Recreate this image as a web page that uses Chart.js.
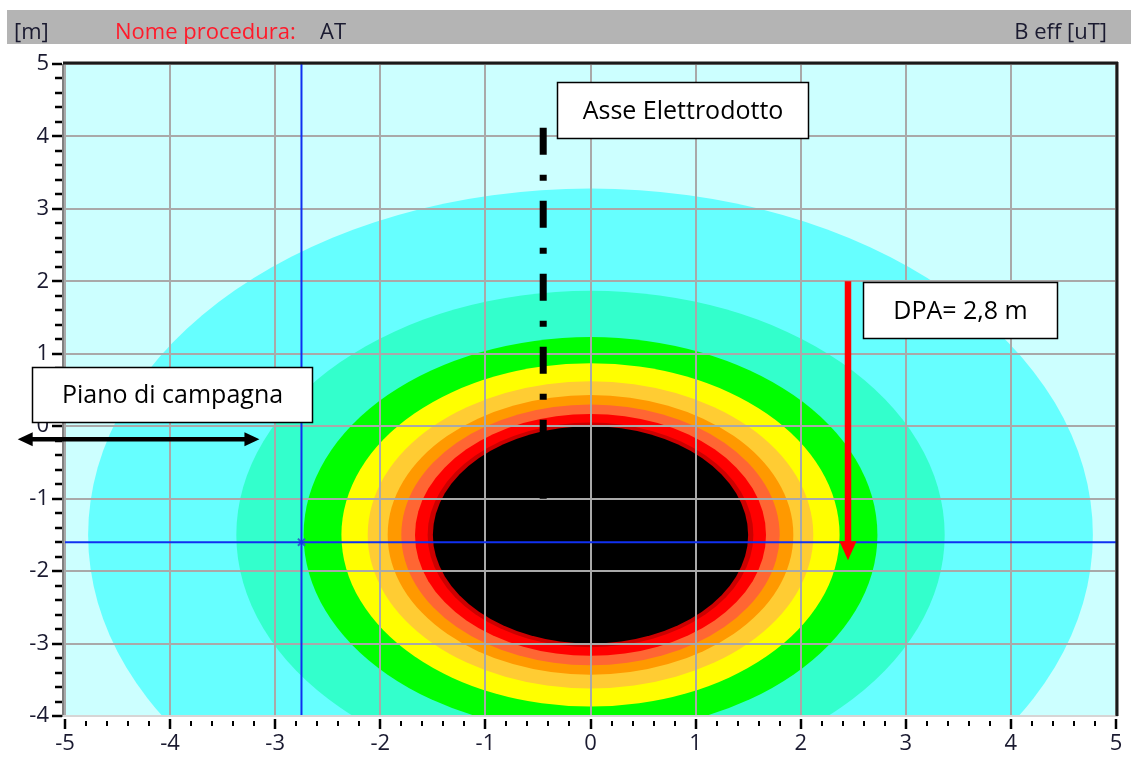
<!DOCTYPE html>
<html>
<head>
<meta charset="utf-8">
<script src="https://cdn.jsdelivr.net/npm/chart.js@4.4.1/dist/chart.umd.min.js"></script>
<style>
  html, body { margin: 0; padding: 0; background: #ffffff; }
  canvas { display: block; }
</style>
</head>
<body>
<canvas id="c" width="1131" height="760"></canvas>
<script>
// Magnetic induction map (B eff, uT) in the cross-section of the line, distances in metres
const xRange = [-5, 5];
const yRange = [-4, 5];
const tickStep = 0.2;

// Centre of the cable group: iso-field curves are circles around it
const sourceX = 0;
const sourceY = -1.5;

// Iso-field bands from the outermost to the innermost: radius [m]
const ringRadii = [4.78, 3.37, 2.73, 2.37, 2.12, 1.93, 1.80, 1.67, 1.55, 1.50];

// Cursor position
const cursorX = -2.75;
const cursorY = -1.6;

// Power line axis (dash-dot), x and vertical extent [m]
const lineAxisX = -0.45;
const lineAxisY = [4.12, -1.0];

// DPA arrow, x and vertical extent [m]
const dpaArrowX = 2.45;
const dpaArrowY = [2.0, -1.85];

// Ground level double arrow, y and horizontal extent [m]
const groundArrowY = -0.18;
const groundArrowX = [-5.45, -3.15];

// Header texts
const headerUnitY = '[m]';
const headerProcLabel = 'Nome procedura:';
const headerProcName = 'AT';
const headerUnitB = 'B eff [uT]';

// Callout texts
const calloutTexts = ['Asse Elettrodotto', 'DPA= 2,8 m', 'Piano di campagna'];

// ---- styling and layout ----
const bandColors = ['#66ffff', '#33ffcc', '#00ff00', '#ffff00', '#ffcc33', '#ff9900', '#ff6633', '#ff0000', '#cc0000', '#000000'];
const outsideColor = '#ccffff';
const FONT = '"Open Sans", "Noto Sans", sans-serif';
const TEXT_DARK = '#1a1a30';
// callout frames in metres: [left, top, right, bottom]
const calloutFrames = [
  [-0.32, 4.75, 2.07, 3.98],
  [2.593, 1.989, 4.439, 1.215],
  [-5.314, 0.817, -2.65, 0.058]
];

const isMajor = v => Math.abs(v - Math.round(v)) < 1e-6;

function drawHead(ctx, tipX, tipY, dx, dy, len, halfW) {
  const bx = tipX - dx * len, by = tipY - dy * len;
  const nx = -dy, ny = dx;
  ctx.beginPath();
  ctx.moveTo(tipX, tipY);
  ctx.lineTo(bx + nx * halfW, by + ny * halfW);
  ctx.lineTo(bx - nx * halfW, by - ny * halfW);
  ctx.closePath();
  ctx.fill();
}

const fieldMap = {
  id: 'fieldMap',
  beforeDraw(chart) {
    const { ctx, chartArea: a, scales: { x, y } } = chart;
    ctx.save();
    // header band
    ctx.fillStyle = '#b4b4b4';
    ctx.fillRect(7, 10, chart.width - 7, 34);
    ctx.font = '22px ' + FONT;
    ctx.textBaseline = 'alphabetic';
    ctx.textAlign = 'left';
    ctx.fillStyle = TEXT_DARK;
    ctx.fillText(headerUnitY, 14, 39);
    ctx.fillStyle = '#ff1a2a';
    ctx.fillText(headerProcLabel, 115, 39);
    ctx.fillStyle = TEXT_DARK;
    ctx.fillText(headerProcName, 320, 39);
    ctx.textAlign = 'right';
    ctx.fillText(headerUnitB, 1107, 39);

    // iso-field bands, clipped to the plot area
    ctx.beginPath();
    ctx.rect(a.left, a.top, a.right - a.left, a.bottom - a.top);
    ctx.clip();
    ctx.fillStyle = outsideColor;
    ctx.fillRect(a.left, a.top, a.right - a.left, a.bottom - a.top);
    const cx = x.getPixelForValue(sourceX);
    const cy = y.getPixelForValue(sourceY);
    ringRadii.forEach((r, i) => {
      const rx = x.getPixelForValue(sourceX + r) - cx;
      const ry = cy - y.getPixelForValue(sourceY + r);
      ctx.beginPath();
      ctx.ellipse(cx, cy, rx, ry, 0, 0, Math.PI * 2);
      ctx.fillStyle = bandColors[i];
      ctx.fill();
    });
    ctx.restore();
  },
  afterDraw(chart) {
    const { ctx, chartArea: a, scales: { x, y } } = chart;
    ctx.save();
    // frame
    ctx.lineCap = 'butt';
    ctx.strokeStyle = '#808080';
    ctx.lineWidth = 2;
    ctx.beginPath(); ctx.moveTo(a.left - 2, a.top); ctx.lineTo(a.left - 2, a.bottom + 1); ctx.stroke();
    ctx.strokeStyle = '#d6d6d6';
    ctx.beginPath(); ctx.moveTo(a.left - 2, a.bottom); ctx.lineTo(a.right + 2, a.bottom); ctx.stroke();
    ctx.strokeStyle = '#1a1a1a';
    ctx.lineWidth = 3;
    ctx.beginPath(); ctx.moveTo(a.left - 2, a.top - 1); ctx.lineTo(a.right + 2, a.top - 1); ctx.stroke();
    ctx.beginPath(); ctx.moveTo(a.right + 1, a.top - 2); ctx.lineTo(a.right + 1, a.bottom); ctx.stroke();

    // tick marks, long on whole metres
    ctx.strokeStyle = '#000000';
    ctx.lineWidth = 2.5;
    y.ticks.forEach(t => {
      const py = Math.round(y.getPixelForValue(t.value));
      const len = isMajor(t.value) ? 10 : 7;
      ctx.beginPath();
      ctx.moveTo(a.left - 3 - len, py);
      ctx.lineTo(a.left - 3, py);
      ctx.stroke();
    });
    x.ticks.forEach(t => {
      const px = Math.round(x.getPixelForValue(t.value));
      const major = isMajor(t.value);
      ctx.lineWidth = major ? 2.5 : 2;
      ctx.beginPath();
      ctx.moveTo(px, a.bottom + (major ? 3 : 5));
      ctx.lineTo(px, a.bottom + (major ? 13 : 10));
      ctx.stroke();
    });

    // DPA arrow
    ctx.strokeStyle = '#ff0000';
    ctx.fillStyle = '#ff0000';
    ctx.lineWidth = 6.5;
    const ax = x.getPixelForValue(dpaArrowX);
    const ay0 = y.getPixelForValue(dpaArrowY[0]);
    const ay1 = y.getPixelForValue(dpaArrowY[1]);
    ctx.beginPath(); ctx.moveTo(ax, ay0); ctx.lineTo(ax, ay1 - 16); ctx.stroke();
    drawHead(ctx, ax, ay1, 0, 1, 19, 8.5);

    // ground level double arrow
    ctx.strokeStyle = '#000000';
    ctx.fillStyle = '#000000';
    ctx.lineWidth = 4.5;
    const gy = y.getPixelForValue(groundArrowY);
    const gx0 = x.getPixelForValue(groundArrowX[0]);
    const gx1 = x.getPixelForValue(groundArrowX[1]);
    ctx.beginPath(); ctx.moveTo(gx0 + 12, gy); ctx.lineTo(gx1 - 12, gy); ctx.stroke();
    drawHead(ctx, gx0, gy, -1, 0, 15, 7);
    drawHead(ctx, gx1, gy, 1, 0, 15, 7);

    // callouts
    ctx.font = '25px ' + FONT;
    ctx.textAlign = 'center';
    ctx.textBaseline = 'middle';
    calloutFrames.forEach((f, i) => {
      const l = Math.round(x.getPixelForValue(f[0])) + 0.5;
      const t = Math.round(y.getPixelForValue(f[1])) + 0.5;
      const r = Math.round(x.getPixelForValue(f[2])) + 0.5;
      const b = Math.round(y.getPixelForValue(f[3])) + 0.5;
      ctx.fillStyle = '#ffffff';
      ctx.fillRect(l, t, r - l, b - t);
      ctx.strokeStyle = '#000000';
      ctx.lineWidth = 1.5;
      ctx.strokeRect(l, t, r - l, b - t);
      ctx.fillStyle = '#000000';
      ctx.fillText(calloutTexts[i], (l + r) / 2, (t + b) / 2 + 1);
    });
    ctx.restore();
  }
};

const gridOpts = {
  color: c => (c.tick && isMajor(c.tick.value)) ? '#a9a9a9' : 'rgba(0,0,0,0)',
  lineWidth: 2,
  drawTicks: true,
  tickLength: 10,
  tickColor: 'rgba(0,0,0,0)'
};
const tickFont = { family: FONT, size: 22 };
const tickLabel = v => isMajor(v) ? String(Math.round(v)) : '';

new Chart(document.getElementById('c'), {
  type: 'scatter',
  data: {
    datasets: [
      {
        data: [{ x: cursorX, y: yRange[1] }, { x: cursorX, y: yRange[0] }],
        showLine: true, borderColor: '#1030f0', borderWidth: 2, pointRadius: 0
      },
      {
        data: [{ x: xRange[0], y: cursorY }, { x: xRange[1], y: cursorY }],
        showLine: true, borderColor: '#1030f0', borderWidth: 2, pointRadius: 0
      },
      {
        data: [{ x: cursorX, y: cursorY }],
        pointStyle: 'crossRot', pointRadius: 5, borderColor: '#2a66c8', borderWidth: 2
      },
      {
        data: [{ x: lineAxisX, y: lineAxisY[0] }, { x: lineAxisX, y: lineAxisY[1] }],
        showLine: true, borderColor: '#000000', borderWidth: 7,
        borderDash: [27, 20, 6, 20], borderCapStyle: 'butt', pointRadius: 0
      }
    ]
  },
  options: {
    responsive: false,
    animation: false,
    events: [],
    devicePixelRatio: 1,
    layout: { padding: { top: 64, right: 15, left: 0, bottom: 0 } },
    plugins: { legend: { display: false }, tooltip: { enabled: false } },
    scales: {
      x: {
        type: 'linear', min: xRange[0], max: xRange[1],
        afterFit: s => { s.height = 44; },
        border: { display: false },
        grid: gridOpts,
        ticks: { stepSize: tickStep, autoSkip: false, maxRotation: 0, minRotation: 0,
                 padding: 5, color: TEXT_DARK, font: tickFont, callback: tickLabel }
      },
      y: {
        type: 'linear', min: yRange[0], max: yRange[1],
        afterFit: s => { s.width = 65; },
        border: { display: false },
        grid: gridOpts,
        ticks: { stepSize: tickStep, autoSkip: false, padding: 6,
                 color: TEXT_DARK, font: tickFont, callback: tickLabel }
      }
    }
  },
  plugins: [fieldMap]
});
</script>
</body>
</html>
